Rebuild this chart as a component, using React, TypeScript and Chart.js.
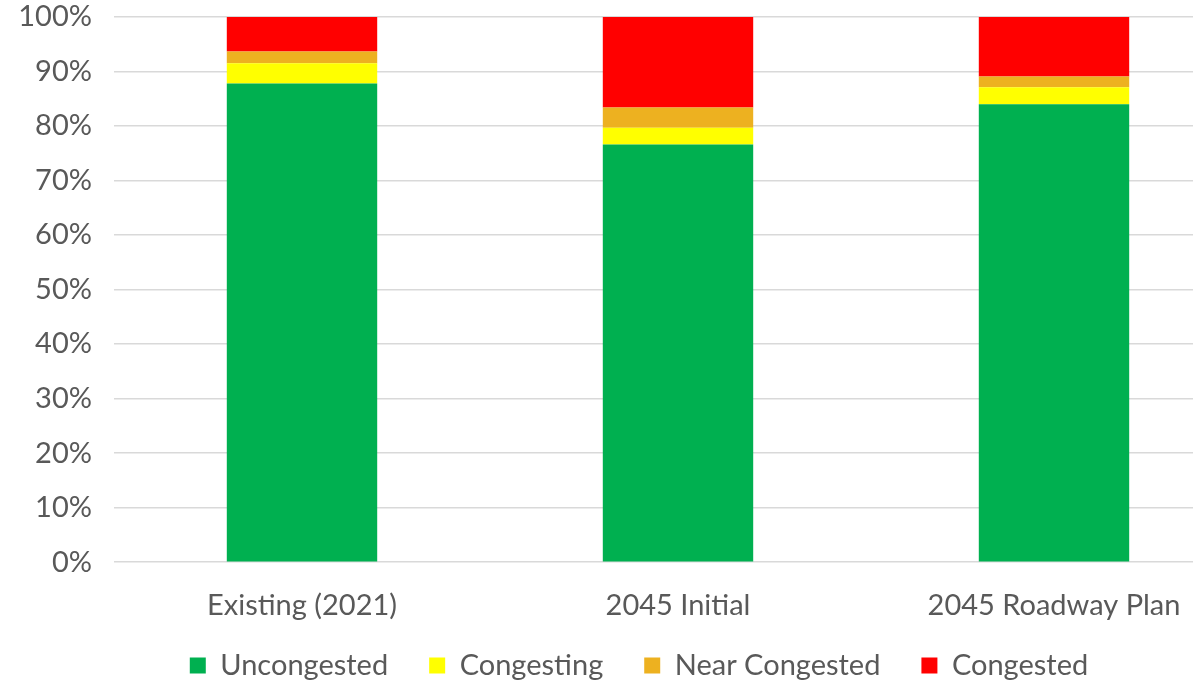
import React, { useEffect, useRef } from "react";
import { Chart, registerables } from "chart.js";

Chart.register(...registerables);

const categories = ["Existing (2021)", "2045 Initial", "2045 Roadway Plan"];
const uncongested = [87.8, 76.6, 84.0];
const congesting = [3.7, 3.1, 3.1];
const nearCongested = [2.15, 3.7, 2.0];
const congested = [6.35, 16.6, 10.9];
const seriesNames = ["Uncongested", "Congesting", "Near Congested", "Congested"];
const seriesColors = ["#00B050", "#FFFF00", "#EDB120", "#FF0000"];

const FONT = "Lato, 'Open Sans', sans-serif";
const TEXT = "#595959";
const LEGEND_SHIFT = 39;

const legendShift = {
  id: "legendShift",
  afterLayout(chart: any) {
    const l = chart.legend;
    if (l && LEGEND_SHIFT) {
      l.top -= LEGEND_SHIFT;
      l.bottom -= LEGEND_SHIFT;
    }
  },
};

export default function App() {
  const ref = useRef<HTMLCanvasElement | null>(null);

  useEffect(() => {
    if (!ref.current) return;
    const values = [uncongested, congesting, nearCongested, congested];
    const chart = new Chart(ref.current, {
      type: "bar",
      data: {
        labels: categories,
        datasets: values.map((v, i) => ({
          label: seriesNames[i],
          data: v,
          backgroundColor: seriesColors[i],
          borderWidth: 0,
          barPercentage: 0.4,
          categoryPercentage: 1,
        })),
      },
      plugins: [legendShift],
      options: {
        animation: false,
        responsive: false,
        maintainAspectRatio: false,
        layout: { padding: 0 },
        plugins: {
          tooltip: { enabled: false },
          legend: {
            position: "bottom",
            labels: {
              color: TEXT,
              font: { family: FONT, size: 29 },
              boxWidth: 16,
              boxHeight: 16,
              padding: 41,
            },
          },
        },
        scales: {
          x: {
            stacked: true,
            grid: { display: false, drawTicks: false },
            border: { display: false },
            ticks: { color: TEXT, font: { family: FONT, size: 29 }, padding: 26, maxRotation: 0 },
            afterFit: (s: any) => {
              s.paddingLeft = 0;
              s.paddingRight = 36;
            },
          },
          y: {
            stacked: true,
            min: 0,
            max: 100,
            afterFit: (s: any) => {
              s.width = 114;
              s.paddingTop = 17;
              s.paddingBottom = 0;
            },
            grid: { color: "#D9D9D9", lineWidth: 1.5, drawTicks: false },
            border: { display: false },
            ticks: {
              stepSize: 10,
              color: TEXT,
              padding: 22,
              font: { family: FONT, size: 29 },
              callback: (v: any) => v + "%",
            },
          },
        },
      },
    });
    return () => chart.destroy();
  }, []);

  return (
    <div style={{ position: "fixed", left: 0, top: 0, width: 1193, height: 681, overflow: "hidden", background: "#fff" }}>
      <canvas ref={ref} width={1278} height={729} style={{ display: "block" }} />
    </div>
  );
}
